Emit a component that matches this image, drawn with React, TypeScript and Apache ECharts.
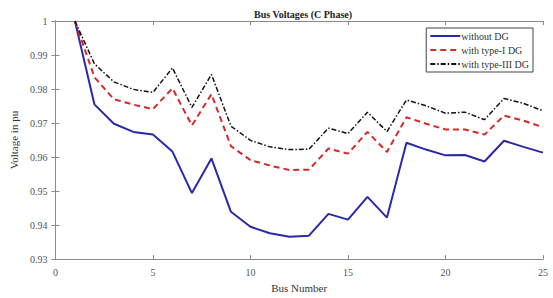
import React, { useEffect, useRef } from "react";
import * as echarts from "echarts";

const buses = [1,2,3,4,5,6,7,8,9,10,11,12,13,14,15,16,17,18,19,20,21,22,23,24,25];
const withoutDG = [1.0,0.9755,0.9698,0.9674,0.9666,0.9616,0.9494,0.9596,0.9439,0.9395,0.9376,0.9366,0.9369,0.9433,0.9416,0.9483,0.9422,0.9642,0.9622,0.9605,0.9606,0.9587,0.9648,0.9630,0.9613];
const typeIDG = [1.0,0.9835,0.9770,0.9754,0.9741,0.9802,0.9693,0.9785,0.9632,0.9591,0.9575,0.9562,0.9563,0.9625,0.9610,0.9674,0.9615,0.9717,0.9698,0.9681,0.9681,0.9666,0.9722,0.9707,0.9688];
const typeIIIDG = [1.0,0.9874,0.9821,0.9799,0.9790,0.9862,0.9746,0.9843,0.9691,0.9649,0.9630,0.9622,0.9623,0.9685,0.9669,0.9732,0.9675,0.9768,0.9751,0.9729,0.9732,0.9710,0.9772,0.9758,0.9736];
const seriesNames = ["without DG", "with type-I DG", "with type-III DG"];

const FONT = "'Liberation Serif', 'DejaVu Serif', serif";

export default function App() {
  const ref = useRef<HTMLDivElement>(null);
  useEffect(() => {
    if (!ref.current) return;
    const chart = echarts.init(ref.current, undefined, { renderer: "svg" });
    const pairs = (vals: number[]) => buses.map((b, i) => [b, vals[i]]);
    const axisCommon = {
      axisLine: { show: true, lineStyle: { color: "#8a8a8a", width: 1 } },
      axisTick: { show: true, inside: true, length: 4, lineStyle: { color: "#8a8a8a" } },
      splitLine: { show: false },
    };
    chart.setOption({
      animation: false,
      backgroundColor: "#ffffff",
      title: {
        text: "Bus Voltages (C Phase)",
        left: 298,
        textAlign: "center",
        top: 4,
        textStyle: { fontFamily: FONT, fontSize: 10, fontWeight: "bold", color: "#222" },
      },
      legend: {
        orient: "vertical",
        right: 20,
        top: 28,
        itemWidth: 30,
        itemHeight: 8,
        itemGap: 4,
        padding: [3, 4, 3, 3],
        borderColor: "#444",
        borderWidth: 1,
        backgroundColor: "#fff",
        itemStyle: { opacity: 0 },
        textStyle: { fontFamily: FONT, fontSize: 10, color: "#333", padding: [0, 0, 0, -4] },
        data: seriesNames,
      },
      grid: { left: 52, right: 10, top: 21, bottom: 36 },
      xAxis: [
        {
          type: "value",
          min: 0,
          max: 25,
          interval: 5,
          name: "Bus Number",
          nameLocation: "middle",
          nameGap: 21,
          nameTextStyle: { fontFamily: FONT, fontSize: 11, color: "#333" },
          axisLabel: { fontFamily: FONT, fontSize: 10, color: "#555", margin: 8 },
          ...axisCommon,
        },
        {
          type: "value",
          position: "top",
          min: 0,
          max: 25,
          interval: 5,
          axisLabel: { show: false },
          ...axisCommon,
        },
      ],
      yAxis: [
        {
          type: "value",
          min: 0.93,
          max: 1.0,
          interval: 0.01,
          name: "Voltage in pu",
          nameLocation: "middle",
          nameGap: 36,
          nameTextStyle: { fontFamily: FONT, fontSize: 11, color: "#333" },
          axisLabel: {
            fontFamily: FONT,
            fontSize: 10,
            color: "#555",
            margin: 8,
            formatter: (v: number) => (Math.abs(v - 1) < 1e-9 ? "1" : v.toFixed(2)),
          },
          ...axisCommon,
        },
        {
          type: "value",
          position: "right",
          min: 0.93,
          max: 1.0,
          interval: 0.01,
          axisLabel: { show: false },
          ...axisCommon,
        },
      ],
      series: [
        {
          name: seriesNames[0],
          type: "line",
          data: pairs(withoutDG),
          symbol: "none",
          lineStyle: { color: "#2a2aa8", width: 2, type: "solid" },
          itemStyle: { color: "#2a2aa8" },
        },
        {
          name: seriesNames[1],
          type: "line",
          data: pairs(typeIDG),
          symbol: "none",
          lineStyle: { color: "#d42a2a", width: 2, type: [6, 4] },
          itemStyle: { color: "#d42a2a" },
        },
        {
          name: seriesNames[2],
          type: "line",
          data: pairs(typeIIIDG),
          symbol: "none",
          lineStyle: { color: "#111111", width: 1.5, type: [5, 2, 1.5, 2] },
          itemStyle: { color: "#111111" },
        },
      ],
    });
    return () => chart.dispose();
  }, []);
  return (
    <div
      ref={ref}
      style={{ position: "absolute", left: 0, top: 0, width: 553, height: 298 }}
    />
  );
}
